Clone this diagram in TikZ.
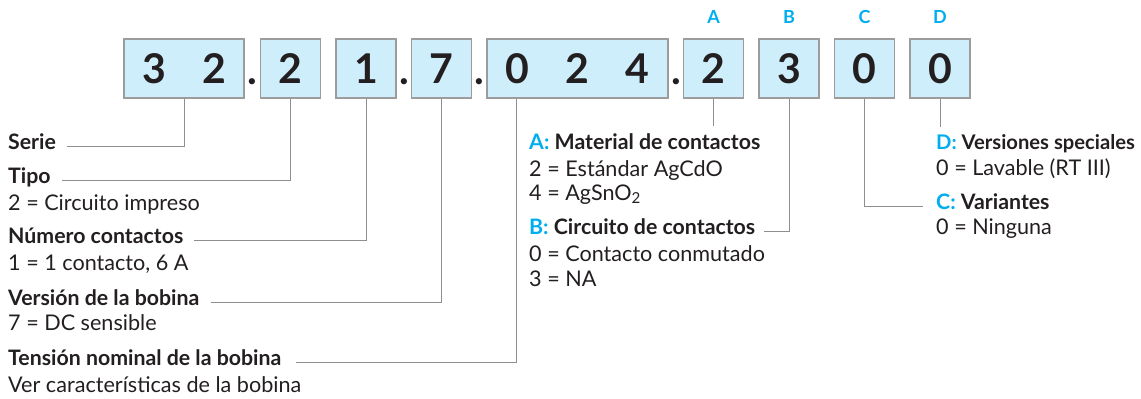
\documentclass[tikz,border=0pt]{standalone}
\usepackage{fontspec}
\setmainfont{Lato}
\definecolor{boxfill}{HTML}{CDEEFA}
\definecolor{boxline}{HTML}{9C9C9C}
\definecolor{keycyan}{HTML}{00AEEF}
\definecolor{wirecol}{HTML}{8E8E8E}
\definecolor{ink}{HTML}{231F20}
\begin{document}
\begin{tikzpicture}[x=1pt, y=-1pt,
	cell/.style={draw=boxline, fill=boxfill, line width=1.3pt, minimum height=59pt, inner sep=0pt,
		text height=29pt, text depth=0pt, text=ink, font=\fontsize{41}{41}\bfseries},
	dot/.style={anchor=base, inner sep=0pt, text=ink, font=\fontsize{41}{41}\bfseries},
	letter/.style={anchor=base, inner sep=0pt, text=keycyan, font=\fontsize{18}{18}\bfseries},
	head/.style={anchor=base west, inner sep=0pt, text=ink, font=\fontsize{21.3}{21.3}\bfseries},
	txt/.style={anchor=base west, inner sep=0pt, text=ink, font=\fontsize{21.6}{21.6}\selectfont},
	wire/.style={draw=wirecol, line width=1pt}]
	\useasboundingbox (0,0) rectangle (1141,399);

	\node[cell, minimum width=120pt] (b1) at (184,68.5) {\makebox[60pt]{3}\makebox[60pt]{2}};
	\node[cell, minimum width=60pt]  (b2) at (290.5,68.5) {2};
	\node[cell, minimum width=60pt]  (b3) at (366,68.5) {1};
	\node[cell, minimum width=60pt]  (b4) at (441.5,68.5) {7};
	\node[cell, minimum width=181pt] (b5) at (577.5,68.5) {\makebox[60pt]{0}\makebox[60pt]{2}\makebox[60pt]{4}};
	\node[cell, minimum width=60pt]  (b6) at (713.5,68.5) {2};
	\node[cell, minimum width=60pt]  (b7) at (789,68.5) {3};
	\node[cell, minimum width=60pt]  (b8) at (864.5,68.5) {0};
	\node[cell, minimum width=60pt]  (b9) at (940,68.5) {0};

	\node[dot] (p1) at (252,84) {.};
	\node[dot] (p2) at (404,84) {.};
	\node[dot] (p3) at (479,84) {.};
	\node[dot] (p4) at (676,84) {.};

	\node[letter] (lA) at (713.5,23) {A};
	\node[letter] (lB) at (789,23) {B};
	\node[letter] (lC) at (864.5,23) {C};
	\node[letter] (lD) at (940,23) {D};

	\node[head] (serie) at (8,149) {Serie};
	\node[head] (tipo)  at (8,183) {Tipo};
	\node[txt]  (tipo1) at (8,210) {2 = Circuito impreso};
	\node[head] (num)   at (8,243) {Número contactos};
	\node[txt]  (num1)  at (8,270) {1 = 1 contacto, 6 A};
	\node[head] (vers)  at (8,305) {Versión de la bobina};
	\node[txt]  (vers1) at (8,330) {7 = DC sensible};
	\node[head] (tens)  at (8,365) {Tensión nominal de la bobina};
	\node[txt]  (tens1) at (8,392) {Ver características de la bobina};

	\node[head] (keyA) at (529,149) {\textcolor{keycyan}{A:} Material de contactos};
	\node[txt]  (a1)   at (529,176) {2 = Estándar AgCdO};
	\node[txt]  (a2)   at (529,200) {4 = AgSnO\textsubscript{2}};
	\node[head] (keyB) at (529,234) {\textcolor{keycyan}{B:} Circuito de contactos};
	\node[txt]  (b71)  at (529,261) {0 = Contacto conmutado};
	\node[txt]  (b72)  at (529,286) {3 = NA};
	\node[head, font=\fontsize{20.2}{20.2}\bfseries] (keyD) at (936,149) {\textcolor{keycyan}{D:} Versiones speciales};
	\node[txt]  (d1)   at (936,175) {0 = Lavable (RT III)};
	\node[head] (keyC) at (936,209) {\textcolor{keycyan}{C:} Variantes};
	\node[txt]  (c1)   at (936,234) {0 = Ninguna};

	\draw[wire, shorten >=11pt] (b1) |- (serie.mid east);
	\draw[wire, shorten >=11pt] (b2) |- (tipo.mid east);
	\draw[wire, shorten >=11pt] (b3) |- (num.mid east);
	\draw[wire, shorten >=11pt] (b4) |- (vers.mid east);
	\draw[wire, shorten >=14pt] ([xshift=30pt]b5.south west) |- (tens.mid east);
	\draw[wire, shorten >=7pt] (b6) -- (b6 |- keyA.north);
	\draw[wire, shorten >=9pt] (b7) |- (keyB.mid east);
	\draw[wire, shorten >=13pt] (b8) |- (keyC.mid west);
	\draw[wire, shorten >=7pt] (b9) -- (b9 |- keyD.north);
\end{tikzpicture}
\end{document}
